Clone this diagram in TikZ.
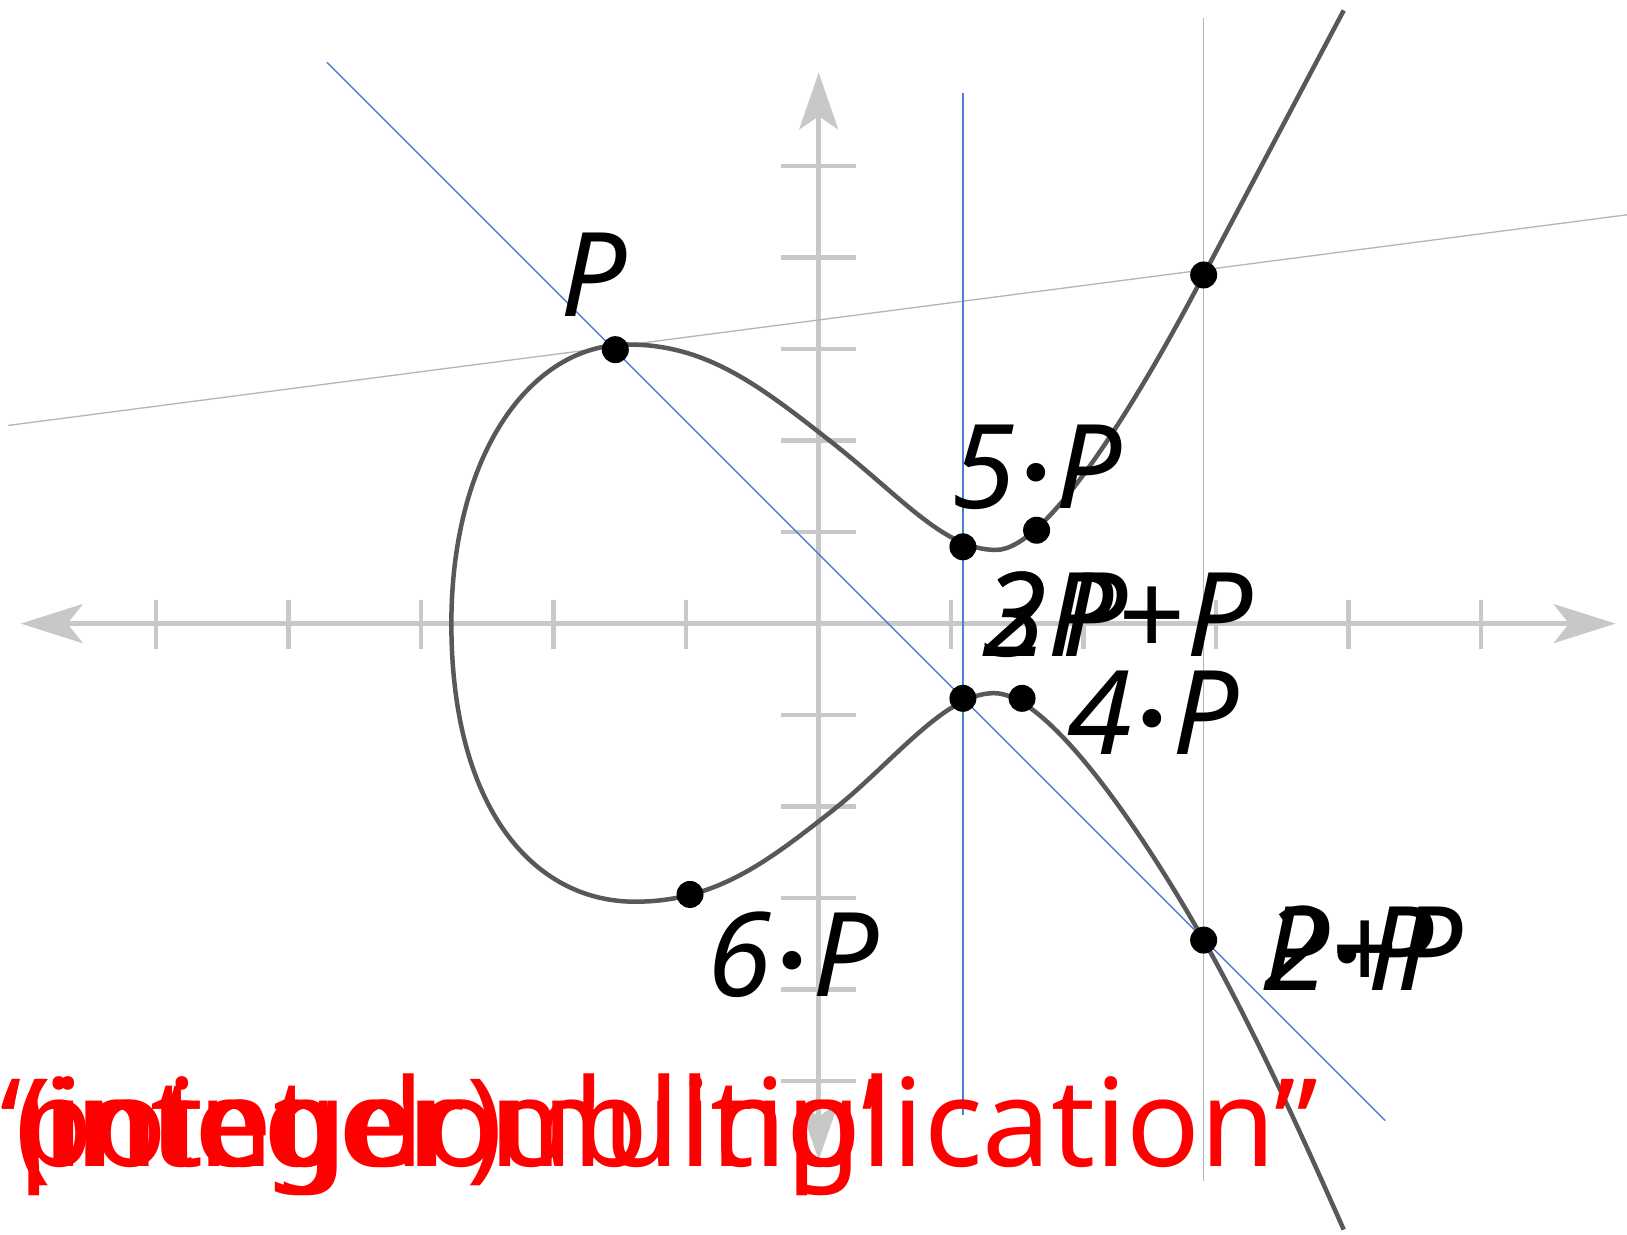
\documentclass[tikz,border=0pt]{standalone}
\usepackage{fontspec}
\setmainfont{Noto Sans}
\newfontfamily\djv{DejaVu Sans}
\definecolor{axisgray}{HTML}{C8C8C8}
\definecolor{curvegray}{HTML}{585858}
\definecolor{lineblue}{HTML}{4A7FD8}
\definecolor{linegray}{HTML}{B4B4B4}
\newcommand{\cdotP}{\kern1pt\raisebox{12pt}{\djv\upshape\fontsize{64}{64}\selectfont •}\kern1pt}
\begin{document}
\begin{tikzpicture}[x=1.0377pt,y=-1.0377pt,
  axisline/.style={draw=axisgray,line width=5pt},
  tickmark/.style={draw=axisgray,line width=4.5pt},
  arrowhd/.style={fill=axisgray},
  curveline/.style={draw=curvegray,line width=4.5pt,line join=round},
  blueline/.style={draw=lineblue,line width=1.3pt},
  grayline/.style={draw=linegray,line width=1.3pt},
  ptdot/.style={fill=black},
  lbl/.style={anchor=base west,inner sep=0pt,font=\fontsize{117}{117}\selectfont\itshape},
  redlbl/.style={anchor=base west,inner sep=0pt,text=red,font=\fontsize{122}{122}\selectfont}]
\useasboundingbox (0,0) rectangle (1568,1190);
% axes
\draw[axisline] (60,601) -- (1517,601);
\draw[axisline] (789,110) -- (789,1080);
\foreach \k in {-5,-4,-3,-2,-1,1,2,3,4,5}
  \draw[tickmark] ({789+127.7*\k},578) -- ({789+127.7*\k},625);
\foreach \j in {-5,-4,-3,-2,-1,1,2,3,4,5}
  \draw[tickmark] (753,{601-88.2*\j}) -- (825,{601-88.2*\j});
\fill[arrowhd] (20,601) -- (80,582) -- (65,601) -- (80,620) -- cycle;
\fill[arrowhd] (1557,601) -- (1497,582) -- (1512,601) -- (1497,620) -- cycle;
\fill[arrowhd] (789,70) -- (770,125) -- (789,112) -- (808,125) -- cycle;
\fill[arrowhd] (789,1118) -- (770,1063) -- (789,1076) -- (808,1063) -- cycle;
% thin construction lines
\coordinate (ga) at (8,410);
\coordinate (gb) at (1568,207);
\coordinate (gc) at (1160,17);
\coordinate (gd) at (1160,1138);
\draw[grayline] (ga) -- (gb);
\draw[grayline] (gc) -- (gd);
% curve
\draw[curveline] (1295,10) .. controls (1250,95) and (1205,180) .. (1160,265)
  .. controls (1100,380) and (1010,530) .. (960,530)
  .. controls (910,530) and (870,480) .. (800,425)
  .. controls (730,370) and (680,332) .. (605,332)
  .. controls (510,332) and (435,440) .. (435,601)
  .. controls (435,780) and (515,869) .. (612,869)
  .. controls (690,869) and (740,830) .. (800,783)
  .. controls (860,736) and (910,668) .. (958,668)
  .. controls (1010,668) and (1100,800) .. (1160,906)
  .. controls (1210,995) and (1255,1095) .. (1295,1185);
% blue lines
\coordinate (ba) at (315,60);
\coordinate (bb) at (1335,1080);
\coordinate (bc) at (928,90);
\coordinate (bd) at (928,1075);
\draw[blueline] (ba) -- (bb);
\draw[blueline] (bc) -- (bd);
% points
\foreach \n/\px/\py in {p1/593/337,p2/1160/265,p3/928/527,p4/999/511,p5/928/673,p6/985/673,p7/665/862,p8/1160/906}{
  \coordinate (\n) at (\px,\py);
  \fill[ptdot] (\n) circle[radius=13];
}
% labels
\node[lbl] (lP) at (540,305) {P};
\node[lbl] (l5) at (917,490) {5\cdotP P};
\node[lbl] (l3) at (947,633) {3\kern14pt P};
\node[lbl] (l2pp) at (947,633) {2P\kern3pt+\kern3pt P};
\node[lbl] (l4) at (1029,727) {4\cdotP P};
\node[lbl] (l6) at (682,960) {6\cdotP P};
\node[lbl] (lpp) at (1217,955) {P+P};
\node[lbl] (l2) at (1217,955) {2\cdotP P};
% red captions
\node[redlbl] (r1) at (0,1124) {‘point doubling’};
\node[redlbl] (r2) at (15,1124) {(integer)};
\node[redlbl] (r3) at (0,1124) {“integer multiplication”};
\end{tikzpicture}
\end{document}
